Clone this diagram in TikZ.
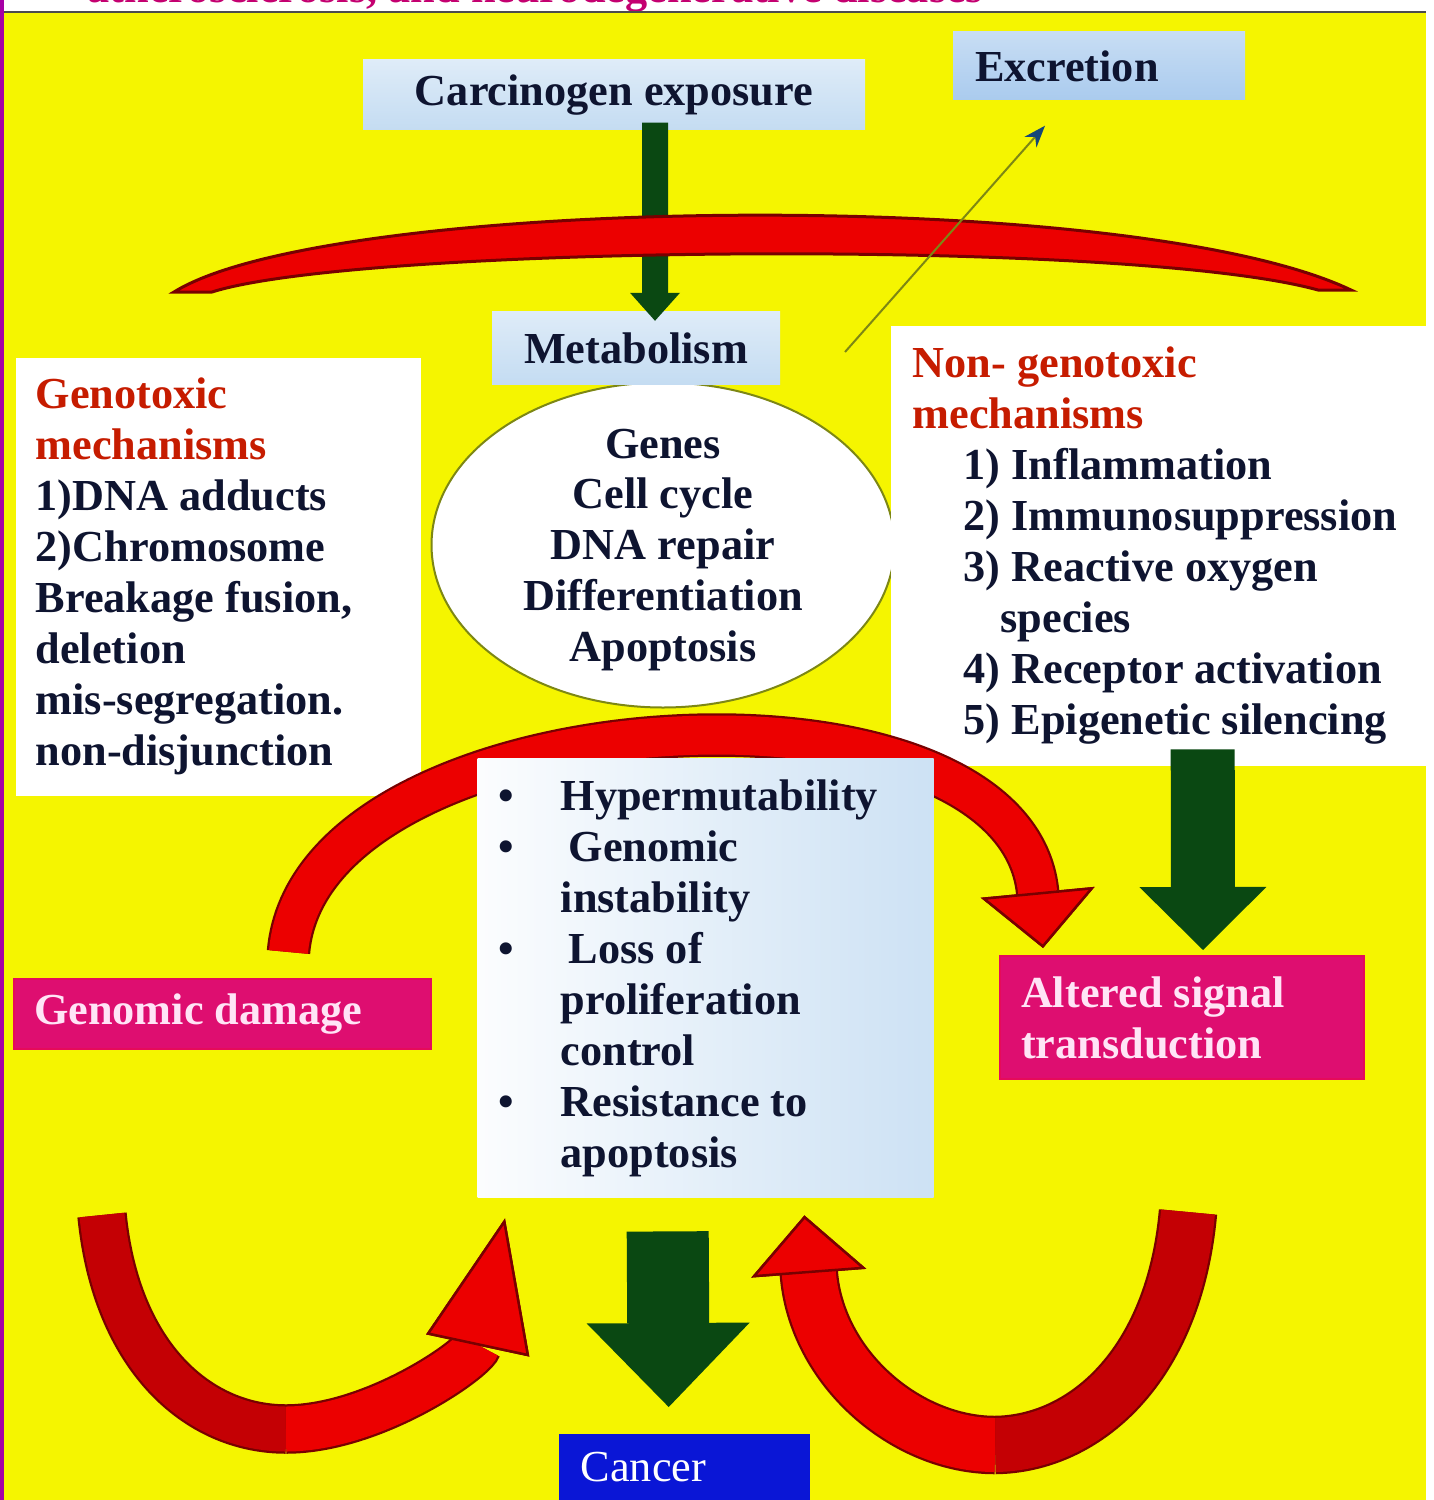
\documentclass[tikz,border=0pt]{standalone}
\usepackage{fontspec}
\setmainfont{Liberation Serif}
\usetikzlibrary{arrows.meta,shapes.geometric}

\definecolor{bgyellow}{RGB}{245,245,0}
\definecolor{ink}{RGB}{14,20,48}
\definecolor{headred}{RGB}{198,28,0}
\definecolor{titlepink}{RGB}{196,0,112}
\definecolor{arrowred}{RGB}{236,0,0}
\definecolor{tailred}{RGB}{196,0,4}
\definecolor{edgered}{RGB}{120,0,0}
\definecolor{darkgreen}{RGB}{10,72,18}
\definecolor{pinkfill}{RGB}{222,14,112}
\definecolor{pinktext}{RGB}{255,228,246}
\definecolor{cancerblue}{RGB}{10,22,214}
\definecolor{paleblue}{RGB}{196,220,242}
\definecolor{skyblue}{RGB}{170,203,238}
\definecolor{oliveline}{RGB}{125,135,20}
\definecolor{tipblue}{RGB}{20,70,120}

\newcommand{\itemdot}{\makebox[6.2mm][l]{\textbullet}}
\newcommand{\itemgap}{\hspace*{6.2mm}}

\begin{document}
\begin{tikzpicture}[x=0.1mm, y=-0.1mm,
    every node/.style={inner sep=0pt, text=ink, font=\bfseries\fontsize{12.6}{14.5}\selectfont},
    bluebox/.style={top color=paleblue!55!white, bottom color=paleblue, minimum height=7mm},
    whitebox/.style={fill=white, anchor=north west, align=flush left, inner xsep=2mm},
    pinkbox/.style={fill=pinkfill, draw=pinkfill!80!red, line width=0.2mm, text=pinktext,
      anchor=north west, align=flush left, inner xsep=2.1mm},
    greenarrow/.style={draw=darkgreen, line width=#1},
    redarrow/.style={draw=arrowred, line width=#1, preaction={draw=edgered, line width=#1+0.45mm}}]
  \useasboundingbox (0,0) rectangle (1433,1500);
  \fill[white] (0,0) rectangle (1433,1500);
  \fill[violet!70!magenta] (0,0) rectangle (4,1500);
  \fill[bgyellow] (4,12) rectangle (1426,1500);
  \draw[gray!60!black, line width=0.15mm] (4,12) -- (1426,12);
  \begin{scope}
    \clip (0,0) rectangle (1433,11);
    \node[anchor=base west, text=titlepink] (ttl) at (87,3) {atherosclerosis, and neurodegenerative diseases};
  \end{scope}

  \node[bluebox, minimum width=50.2mm] (carc) at (614,95) {Carcinogen exposure};
  \node[bluebox, top color=skyblue!65!white, bottom color=skyblue, text width=24.8mm,
    inner xsep=2.2mm, align=flush left, minimum height=6.8mm] (excr) at (1099,66) {Excretion};

  \node[ellipse, fill=white, draw=oliveline, line width=0.2mm,
    minimum width=46.3mm, minimum height=32.5mm] (genes) at (663,545) {};
  \node[align=center] (genestext) at ([yshift=-0.5mm]genes.center)
    {Genes\\Cell cycle\\DNA repair\\Differentiation\\Apoptosis};
  \node[bluebox, minimum width=28.8mm, minimum height=7.3mm] (meta) at (636,348) {Metabolism};
  \draw[greenarrow=2.6mm, -{Triangle[width=5mm, length=2.8mm, line width=0pt]}]
    ([xshift=4.1mm, yshift=0.8mm]carc.south) -- ([xshift=1.9mm, yshift=-1mm]meta.north);
  \fill[arrowred, draw=edgered, line width=0.3mm] (174,292) .. controls (330,195) and (1130,185) .. (1351,290)
    -- (1318,290) .. controls (1130,238) and (360,245) .. (212,292) -- cycle;

  \node[whitebox, text width=36.5mm, minimum height=43.8mm] (geno) at (15,357)
    {\textcolor{headred}{Genotoxic}\\\textcolor{headred}{mechanisms}\\1)DNA adducts\\2)Chromosome\\
     Breakage fusion,\\deletion\\mis-segregation.\\non-disjunction};
  \node[whitebox, inner xsep=2.2mm, text width=49.4mm, minimum height=44mm] (nongeno) at (890,325)
    {\textcolor{headred}{Non- genotoxic}\\\textcolor{headred}{mechanisms}\\
     \hspace*{5.1mm}1) Inflammation\\\hspace*{5.1mm}2) Immunosuppression\\
     \hspace*{5.1mm}3) Reactive oxygen\\\hspace*{8.8mm}species\\
     \hspace*{5.1mm}4) Receptor activation\\\hspace*{5.1mm}5) Epigenetic silencing};
  \coordinate (exs) at (845,352);
  \draw[oliveline, line width=0.2mm, -{Stealth[length=2.2mm, width=1.6mm, color=tipblue]}]
    (exs) -- ([xshift=-5.4mm, yshift=-2.5mm]excr.south);

  \node[pinkbox, text width=37.7mm, inner xsep=2mm, minimum height=7mm] (gd) at (13,978) {Genomic damage};
  \node[pinkbox, text width=32.2mm, minimum height=12.3mm] (ast) at (999,955) {Altered signal\\transduction};

  \draw[redarrow=3.9mm, -{Triangle[width=11.4mm, length=5.6mm, line width=0.25mm, color=edgered, fill=arrowred]}]
    ([xshift=6.6mm, yshift=2.6mm]gd.north) .. controls (310,695) and (1015,655) .. ([xshift=-13.9mm, yshift=0.7mm]ast.north);

  \node[anchor=north west, left color=white!94!paleblue, right color=paleblue!85!white, text width=41.4mm,
    inner xsep=2.1mm, minimum height=43.9mm, align=flush left] (cbox) at (477,758)
    {\itemdot Hypermutability\\\itemdot\hspace{0.8mm}Genomic\\\itemgap instability\\
     \itemdot\hspace{0.8mm}Loss of\\\itemgap proliferation\\\itemgap control\\
     \itemdot Resistance to\\\itemgap apoptosis};

  \draw[greenarrow=6.4mm, -{Triangle[width=12.7mm, length=6.3mm, line width=0pt]}]
    ([xshift=4.3mm, yshift=1.7mm]nongeno.south) -- ([xshift=2.1mm, yshift=0.5mm]ast.north);

  \node[anchor=north west, fill=cancerblue, text=white, font=\mdseries\fontsize{12.6}{14.5}\selectfont,
    text width=20.7mm, inner xsep=2.2mm, minimum height=6.7mm, align=flush left] (cancer) at (558,1433) {Cancer};
  \draw[greenarrow=8.2mm, -{Triangle[width=16.3mm, length=8.4mm, line width=0pt]}]
    ([xshift=-3.8mm, yshift=-3.3mm]cbox.south) -- ([xshift=-1.55mm, yshift=2.6mm]cancer.north);

  \coordinate (lutop) at (102,1215);
  \coordinate (lubot) at (286,1429);
  \draw[redarrow=4.5mm, draw=tailred] (lutop) .. controls (116,1357) and (198,1429) .. (lubot);
  \draw[redarrow=4.5mm, -{Triangle[width=10.5mm, length=13mm, line width=0.25mm, color=edgered, fill=arrowred]}]
    (lubot) .. controls (374,1429) and (475,1358) .. ([xshift=2.8mm, yshift=-2mm]cbox.south west);

  \coordinate (rutop) at (1188,1212);
  \coordinate (rubot) at (995,1445);
  \draw[redarrow=5.4mm, draw=tailred] (rutop) .. controls (1174,1367) and (1084,1444) .. (rubot);
  \draw[redarrow=5.4mm, -{Triangle[width=11.5mm, length=5.8mm, line width=0.25mm, color=edgered, fill=arrowred]}]
    (rubot) .. controls (906,1445) and (816,1368) .. ([xshift=-13mm, yshift=-1.7mm]cbox.south east);
\end{tikzpicture}
\end{document}
